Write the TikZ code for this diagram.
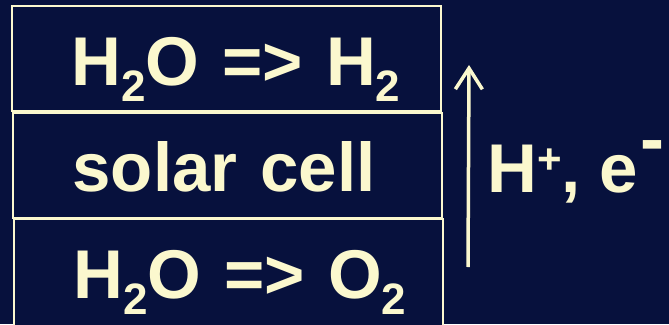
\documentclass[tikz,border=0pt]{standalone}
\usepackage{fontspec}
\setmainfont{Liberation Sans}
\usetikzlibrary{arrows.meta}
% lowered / raised small figures
\newcommand{\lowfig}[1]{\raisebox{-16pt}{\fontsize{44}{44}\selectfont #1}}
\newcommand{\charge}[3]{\raisebox{#1}{\fontsize{#2}{#2}\selectfont #3}}
\begin{document}
\begin{tikzpicture}[x=1pt, y=-1pt,
	cell/.style={draw=cream, line width=2pt, fill=navy, text=cream,
		font=\fontsize{69}{69}\selectfont\bfseries, align=left,
		minimum height=105pt, text width=309pt, inner xsep=60pt, inner ysep=0pt,
		text height=58pt, text depth=5pt},
	lbl/.style={text=cream, font=\fontsize{69}{69}\selectfont\bfseries, inner sep=0pt},
	flow/.style={draw=cream, line width=3.5pt, -{Straight Barb[length=21pt, width=27pt, line width=3.5pt]}}]
	% Define custom colors
	\definecolor{navy}{RGB}{7, 17, 61}
	\definecolor{cream}{RGB}{251, 248, 206}
	\fill[navy] (0, 0) rectangle (669, 324);
	\clip (0, 0) rectangle (669, 324);
	% the three layers
	\node[cell] (cathode) at (226, 58.5) {\mbox{H\lowfig{2}O => H\lowfig{2}}};
	\node[cell] (cell) at (227, 165) {\mbox{solar cell}};
	\node[cell, minimum height=125pt, text depth=25pt] (anode) at (228, 281.5) {\mbox{H\lowfig{2}O => O\lowfig{2}}};
	% charge transport
	\coordinate (flowlo) at (468, 267);
	\coordinate (flowhi) at (469, 65);
	\draw[flow] (flowlo) -- (flowhi);
	\node[lbl, anchor=base west] (carrier) at (487, 192) {H\charge{19pt}{42}{+}, e\hspace{2pt}\charge{29pt}{72}{-}};
\end{tikzpicture}
\end{document}
